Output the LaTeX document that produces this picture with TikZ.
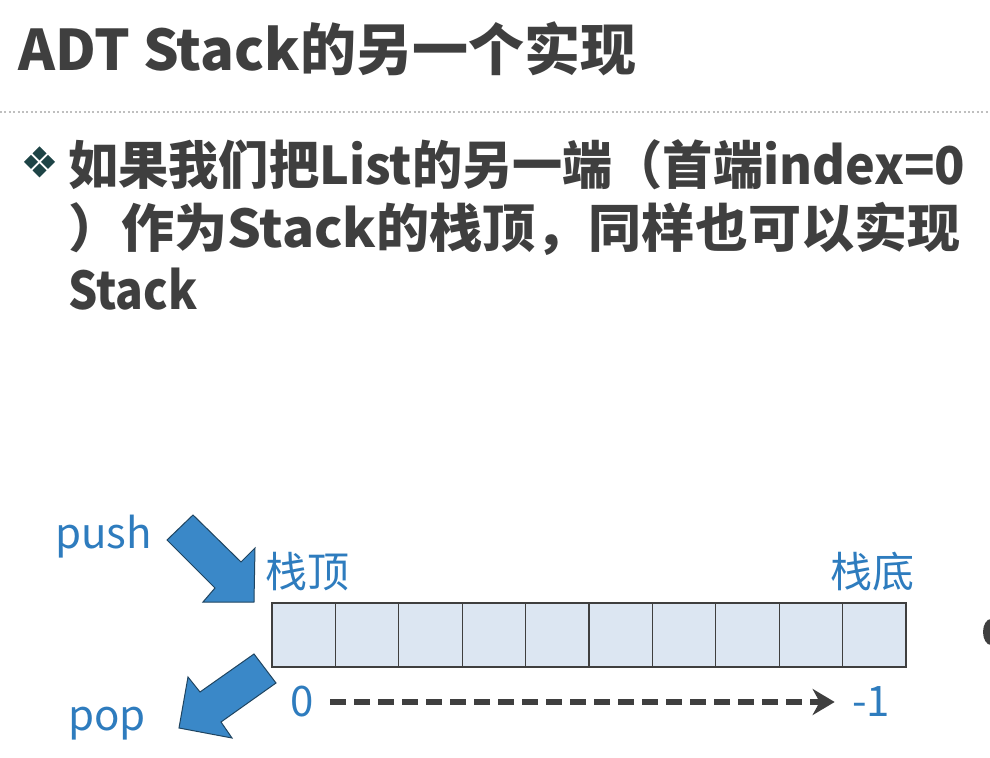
\documentclass[tikz,border=0pt]{standalone}
\usepackage{fontspec}
\setmainfont{Noto Sans CJK SC}
\usetikzlibrary{arrows.meta}
\definecolor{textgray}{HTML}{3F3F3F}
\definecolor{labelblue}{HTML}{2E7CBE}
\definecolor{arrowblue}{HTML}{3A88C8}
\definecolor{arrowline}{HTML}{1F4460}
\definecolor{cellfill}{HTML}{DCE6F2}
\definecolor{bulletteal}{HTML}{1E4446}
\tikzset{
  titletext/.style={anchor=base west, inner sep=0pt, text=textgray, font=\bfseries\fontsize{28}{28}\selectfont},
  bodytext/.style={anchor=base west, inner sep=0pt, text=textgray, font=\bfseries\fontsize{26}{26}\selectfont},
  bluelabel/.style={inner sep=0pt, text=labelblue, font=\fontsize{21}{21}\selectfont},
  cell/.style={draw=textgray, fill=cellfill, line width=0.6pt, minimum width=31.7pt, minimum height=32pt, inner sep=0pt, outer sep=0pt},
  blockarrow/.style={fill=arrowblue, draw=arrowline, line width=0.5pt, line join=miter},
  dasharrow/.style={draw=textgray, line width=2.8pt, dash pattern=on 8pt off 4pt, -{Stealth[length=11pt,width=13pt,inset=3.5pt]}}
}
\begin{document}
\begin{tikzpicture}[x=0.5pt,y=-0.5pt]
  \def\pushpath{(167,540) -- (193,515) -- (241,562) -- (255,548) -- (254,602) -- (203,602) -- (215,588) -- cycle}
  \def\poppath{(254,654) -- (200,692) -- (188,677) -- (179,728) -- (232,738) -- (221,722) -- (276,683) -- cycle}
  \useasboundingbox[fill=white] (0,0) rectangle (990,758);
  \clip (0,0) rectangle (990,758);
  % title and rule
  \node[titletext] (title) at (18,71) {ADT Stack的另一个实现};
  \draw[gray!50, line width=1pt, dash pattern=on 1pt off 1.2pt] (0,112) -- (990,112);
  % bullet
  \foreach \dx/\dy in {0/-8.5,-8.5/0,8.5/0,0/8.5}
    \fill[bulletteal] (39.5+\dx,162+\dy) ++(0,-7) -- ++(7,7) -- ++(-7,7) -- ++(-7,-7) -- cycle;
  \node[bodytext] (line1) at (68,185) {\resizebox{448.5pt}{\height}{如果我们把List的另一端（首端index=0}};
  \node[bodytext] (line2) at (68,248) {\resizebox{446pt}{\height}{）作为Stack的栈顶，同样也可以实现}};
  \node[bodytext] (line3) at (68,310) {\resizebox{64.5pt}{\height}{Stack}};
  % the list
  \foreach \i in {0,...,9}
    \node[cell] (c\i) at (303.7+63.4*\i,635) {};
  \node[bluelabel, anchor=base west] (top) at (265,588) {栈顶};
  \node[bluelabel, anchor=base east] (bottom) at (915,588) {栈底};
  \node[bluelabel, anchor=base west] (push) at (55,548) {push};
  \node[bluelabel, anchor=base west] (pop) at (68,730) {pop};
  \node[bluelabel] (zero) at (302,702) {0};
  \node[bluelabel] (minusone) at (871,702) {-1};
  \draw[dasharrow, shorten <=8pt, shorten >=8.5pt] (zero) -- (minusone);
  \draw[blockarrow] \pushpath;
  \draw[blockarrow] \poppath;
  \fill[textgray] (991,632) ellipse (4pt and 6.5pt);
\end{tikzpicture}
\end{document}
